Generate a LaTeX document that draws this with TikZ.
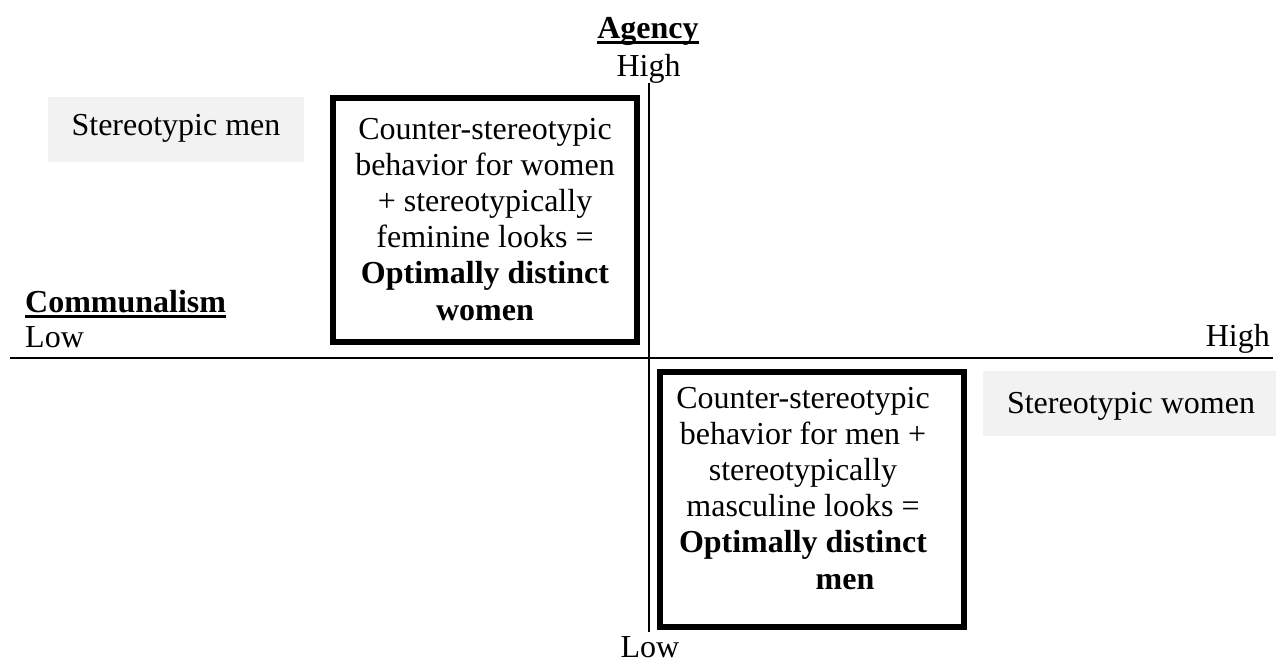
\documentclass[tikz,border=0pt]{standalone}
\usepackage{fontspec}
\setmainfont{Liberation Serif}
\definecolor{boxgray}{HTML}{F2F2F2}
\newcommand\myul[1]{\setbox0\hbox{#1}\rlap{\rule[-6pt]{\wd0}{2.8pt}}\box0}
\newcommand\mylines[1]{\begin{tabular}[t]{@{}c@{}}#1\end{tabular}}
\tikzset{
  big/.style={font=\fontsize{32}{36.2}\selectfont, inner sep=0pt},
  lbl/.style={big, anchor=base},
  framebox/.style={draw=black, line width=5.5pt, fill=none},
  graybox/.style={fill=boxgray, draw=none},
  boxtext/.style={big, anchor=base},
  axis/.style={line width=2pt, draw=black}
}
\begin{document}
\begin{tikzpicture}[x=1pt,y=-1pt]
\useasboundingbox (0,0) rectangle (1276,662);
% axes
\coordinate (hL) at (10,358);
\coordinate (hR) at (1273,358);
\coordinate (vT) at (649,83);
\coordinate (vB) at (649,632);
\draw[axis] (hL) -- (hR);
\draw[axis] (vT) -- (vB);
% gray boxes
\fill[graybox] (48,97) rectangle (304,162);
\node[lbl] (smen) at (176,135) {Stereotypic men};
\fill[graybox] (983,371) rectangle (1276,436);
\node[lbl] (swomen) at (1131,413) {Stereotypic women};
% framed boxes
\draw[framebox] (333,98) rectangle (637,342);
\node[boxtext] (wtext) at (485,139) {\mylines{Counter-stereotypic\\behavior for women\\+ stereotypically\\feminine looks =\\\textbf{Optimally distinct}\\\textbf{women}}};
\draw[framebox] (660,372) rectangle (964,627);
\node[boxtext] (mtext) at (803,408) {\mylines{Counter-stereotypic\\behavior for men +\\stereotypically\\masculine looks =\\\textbf{Optimally distinct}\\\hspace*{84pt}\textbf{men}}};
% axis labels
\node[lbl] (agency) at (648,38) {\myul{\textbf{Agency}}};
\node[lbl] (ahigh) at (648.5,76) {High};
\node[lbl, anchor=base west] (comm) at (25,312) {\myul{\textbf{Communalism}}};
\node[lbl, anchor=base west] (clow) at (25,347) {Low};
\node[lbl, anchor=base east] (chigh) at (1270,346) {High};
\node[lbl] (alow) at (650,657) {Low};
\end{tikzpicture}
\end{document}
